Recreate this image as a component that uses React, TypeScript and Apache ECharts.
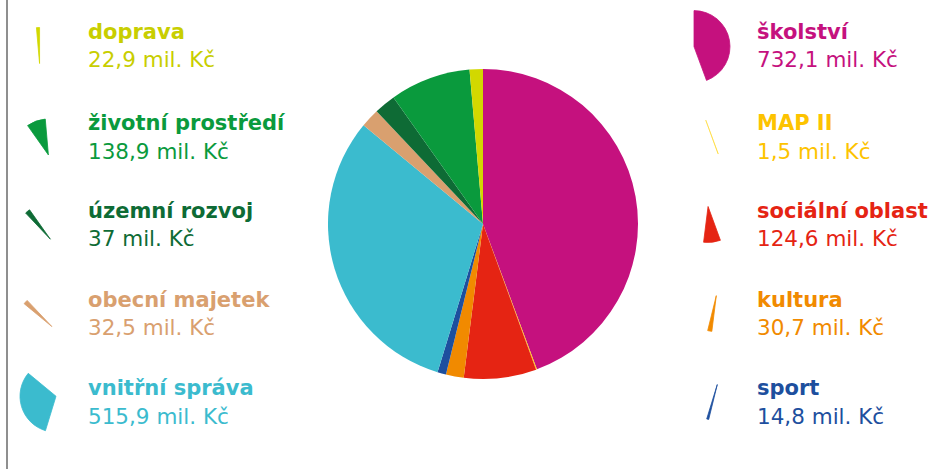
import React, { useEffect, useRef } from "react";
import * as echarts from "echarts";

const categories = [
  "školství",
  "MAP II",
  "sociální oblast",
  "kultura",
  "sport",
  "vnitřní správa",
  "obecní majetek",
  "územní rozvoj",
  "životní prostředí",
  "doprava",
];
const values = [732.1, 1.5, 124.6, 30.7, 14.8, 515.9, 32.5, 37, 138.9, 22.9];
const unit = "mil. Kč";
const sliceColors = [
  "#C5117E",
  "#FFD000",
  "#E52413",
  "#F18A00",
  "#1D4F9E",
  "#3BBBCE",
  "#D9A06F",
  "#0E6B35",
  "#0A9A3D",
  "#D2D800",
];
const textColors = [
  "#C5117E",
  "#FDC300",
  "#E52413",
  "#F18A00",
  "#1D4F9E",
  "#3BBBCE",
  "#D9A06F",
  "#0E6B35",
  "#0A9A3D",
  "#C8CE00",
];
// side: 1 = right, 0 = left ; row index 0..4 from top
const sides = [1, 1, 1, 1, 1, 0, 0, 0, 0, 0];
const rows = [0, 1, 2, 3, 4, 4, 3, 2, 1, 0];

const FONT = '"DejaVu Sans", sans-serif';

function fmt(v: number) {
  const s = Number.isInteger(v) ? String(v) : v.toFixed(1).replace(".", ",");
  return s + " " + unit;
}

function sectorBox(a0: number, a1: number, r: number) {
  const pts: [number, number][] = [[0, 0]];
  const pt = (a: number): [number, number] => {
    const rad = (a * Math.PI) / 180;
    return [r * Math.sin(rad), -r * Math.cos(rad)];
  };
  pts.push(pt(a0), pt(a1));
  for (let k = 0; k <= 360; k += 90) {
    if (k > a0 && k < a1) pts.push(pt(k));
  }
  const xs = pts.map((p) => p[0]);
  const ys = pts.map((p) => p[1]);
  return {
    cx: (Math.min(...xs) + Math.max(...xs)) / 2,
    cy: (Math.min(...ys) + Math.max(...ys)) / 2,
  };
}

export default function App() {
  const ref = useRef<HTMLDivElement>(null);
  useEffect(() => {
    document.body.style.margin = "0";
    if (!ref.current) return;
    const chart = echarts.init(ref.current, undefined, { renderer: "svg" });
    const total = values.reduce((a, b) => a + b, 0);
    const nameY = [32, 123, 211, 300, 388];
    const valY = [59, 151, 238, 327, 416];
    const textX = [88, 757];
    const iconX = [38, 712];
    const iconR = 36;

    const data = categories.map((n, i) => ({
      name: n,
      value: values[i],
      itemStyle: { color: sliceColors[i] },
    }));

    const series: any[] = [
      {
        type: "pie",
        center: [483, 224],
        radius: 155,
        startAngle: 90,
        clockwise: true,
        silent: true,
        label: { show: false },
        labelLine: { show: false },
        itemStyle: { borderWidth: 0 },
        emphasis: { disabled: true },
        data,
      },
    ];

    let cum = 0;
    const graphics: any[] = [
      {
        type: "line",
        shape: { x1: 7, y1: 0, x2: 7, y2: 469 },
        style: { stroke: "#6a6a6a", lineWidth: 1.5 },
        silent: true,
      },
    ];
    categories.forEach((n, i) => {
      const a0 = (cum / total) * 360;
      cum += values[i];
      const a1 = (cum / total) * 360;
      const box = sectorBox(a0, a1, iconR);
      const side = sides[i];
      const row = rows[i];
      const midY = (nameY[row] + valY[row]) / 2;
      series.push({
        type: "pie",
        center: [iconX[side] - box.cx, midY - box.cy],
        radius: iconR,
        startAngle: 90,
        clockwise: true,
        silent: true,
        label: { show: false },
        labelLine: { show: false },
        emphasis: { disabled: true },
        data: categories.map((m, j) => ({
          name: m,
          value: values[j],
          itemStyle:
            j === i
              ? {
                  color: sliceColors[j],
                  borderColor: sliceColors[j],
                  borderWidth: 0.8,
                  opacity: j === 1 ? 0.55 : 1,
                }
              : { color: "rgba(0,0,0,0)", borderWidth: 0 },
        })),
      });
      graphics.push({
        type: "text",
        x: textX[side],
        y: nameY[row],
        silent: true,
        style: {
          text: n,
          fill: textColors[i],
          fontSize: 21,
          fontWeight: "bold",
          fontFamily: FONT,
          verticalAlign: "middle",
          align: "left",
        },
      });
      graphics.push({
        type: "text",
        x: textX[side],
        y: valY[row],
        silent: true,
        style: {
          text: fmt(values[i]),
          fill: textColors[i],
          fontSize: 21.5,
          fontWeight: "normal",
          fontFamily: FONT,
          verticalAlign: "middle",
          align: "left",
        },
      });
    });

    chart.setOption({
      animation: false,
      backgroundColor: "#ffffff",
      tooltip: { show: false },
      legend: { show: false },
      series,
      graphic: graphics,
    });
    return () => chart.dispose();
  }, []);
  return (
    <div style={{ position: "fixed", left: 0, top: 0, width: 933, height: 469 }}>
      <div ref={ref} style={{ width: 933, height: 469 }} />
    </div>
  );
}
